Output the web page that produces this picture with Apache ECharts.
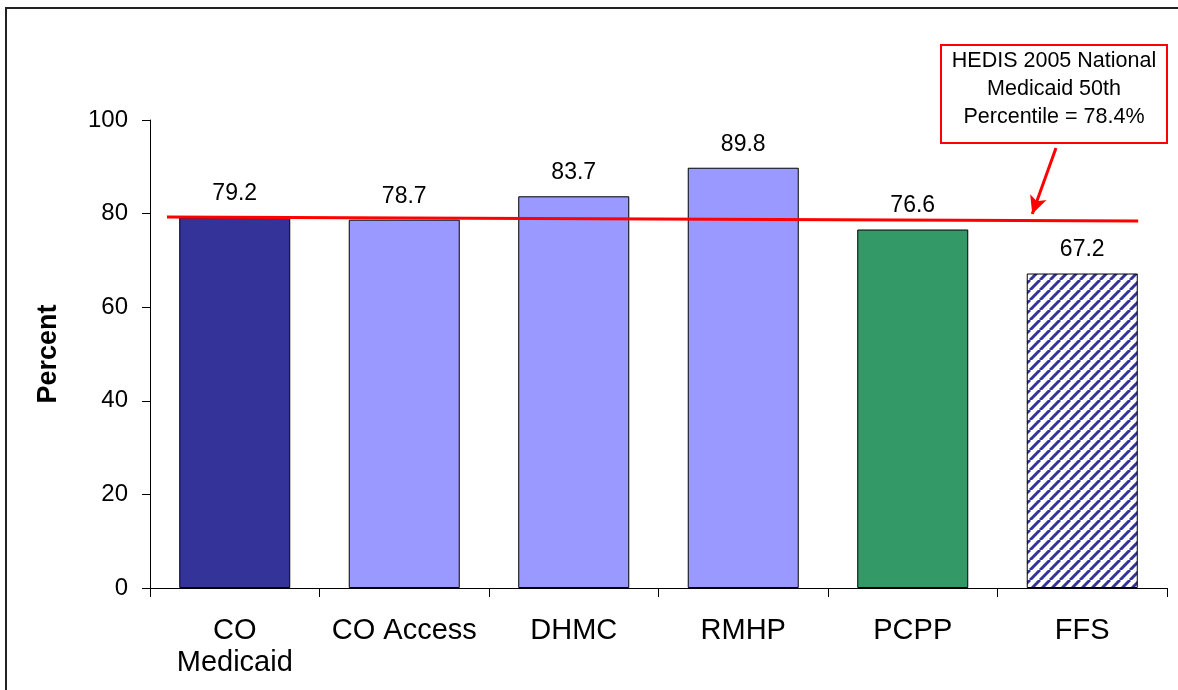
<!DOCTYPE html>
<html>
<head>
<meta charset="utf-8">
<script src="https://cdn.jsdelivr.net/npm/echarts@6/dist/echarts.min.js"></script>
<style>
html,body{margin:0;padding:0;background:#fff;}
#chart{width:1178px;height:690px;}
</style>
</head>
<body>
<div id="chart"></div>
<script>
// ---- data ----
const categories = ['CO Medicaid', 'CO Access', 'DHMC', 'RMHP', 'PCPP', 'FFS'];
const values = [79.2, 78.7, 83.7, 89.8, 76.6, 67.2];
const yTicks = [0, 20, 40, 60, 80, 100];
const benchmarkLabel = ['HEDIS 2005 National', 'Medicaid 50th', 'Percentile = 78.4%'];
// benchmark line as drawn (x in category-width units, y in percent)
const benchmarkLine = [[0.1, 79.3], [5.83, 78.4]];
// annotation arrow (x in category-width units, y in percent)
const arrowFrom = [5.345, 94.0];
const arrowTo = [5.205, 79.9];

// ---- styles ----
const FONT = "'Liberation Sans', Arial, sans-serif";

function hatch() {
  const s = 10;
  const c = document.createElement('canvas');
  c.width = s; c.height = s;
  const g = c.getContext('2d');
  g.fillStyle = '#ffffff';
  g.fillRect(0, 0, s, s);
  g.strokeStyle = '#333399';
  g.lineWidth = 3;
  for (const k of [-s, 0, s]) {
    g.beginPath();
    g.moveTo(k, s);
    g.lineTo(k + s, 0);
    g.stroke();
  }
  return c;
}
const barColors = ['#333399', '#9999FF', '#9999FF', '#9999FF', '#339966', {image: hatch(), repeat: 'repeat'}];

const chart = echarts.init(document.getElementById('chart'), null, {renderer: 'canvas'});

const barData = values.map((v, i) => ({
  value: v,
  itemStyle: {color: barColors[i]}
}));

chart.setOption({
  animation: false,
  backgroundColor: '#ffffff',
  grid: {left: 150, right: 11, top: 120, bottom: 102, containLabel: false},
  xAxis: [{
    type: 'category',
    data: categories,
    axisLine: {show: true, lineStyle: {color: '#000', width: 1}},
    axisTick: {show: true, length: 9, alignWithLabel: false, lineStyle: {color: '#000'}},
    axisLabel: {
      color: '#000', fontFamily: FONT, fontSize: 29, lineHeight: 32, margin: 27,
      interval: 0,
      formatter: v => v.replace(' Medicaid', '\nMedicaid')
    }
  }, {
    type: 'value', min: 0, max: 6, show: false
  }],
  yAxis: {
    type: 'value',
    min: yTicks[0], max: yTicks[yTicks.length - 1], interval: 20,
    name: 'Percent',
    nameLocation: 'middle',
    nameRotate: 90,
    nameGap: 88,
    nameTextStyle: {color: '#000', fontFamily: FONT, fontSize: 27, fontWeight: 'bold'},
    axisLine: {show: true, lineStyle: {color: '#000', width: 1}},
    axisTick: {show: true, length: 8, lineStyle: {color: '#000'}},
    splitLine: {show: false},
    axisLabel: {color: '#000', fontFamily: FONT, fontSize: 24, margin: 22}
  },
  series: [{
    type: 'bar',
    data: barData,
    barCategoryGap: '34.5%',
    itemStyle: {borderColor: '#000', borderWidth: 1},
    label: {
      show: true, position: 'top', distance: 12,
      color: '#000', fontFamily: FONT, fontSize: 23,
      formatter: p => p.value.toFixed(1)
    },
    z: 2
  }, {
    type: 'line',
    xAxisIndex: 1,
    data: benchmarkLine,
    symbol: 'none',
    lineStyle: {color: '#FF0000', width: 3},
    z: 5,
    markLine: {
      silent: true,
      symbol: ['none', 'arrow'],
      symbolSize: [13, 18],
      label: {show: false},
      lineStyle: {color: '#FF0000', width: 3, type: 'solid'},
      data: [[{coord: arrowFrom}, {coord: arrowTo}]]
    }
  }],
  graphic: [{
    type: 'rect',
    shape: {x: 6, y: 8, width: 1400, height: 900},
    style: {fill: 'none', stroke: '#222', lineWidth: 2},
    z: 0
  }, {
    type: 'rect',
    shape: {x: 941, y: 45, width: 226, height: 98},
    style: {fill: '#fff', stroke: '#FF0000', lineWidth: 2},
    z: 10
  }, {
    type: 'text',
    x: 1054, y: 89,
    style: {
      text: benchmarkLabel.join('\n'),
      fill: '#000', font: '21.5px ' + FONT,
      lineHeight: 28,
      textAlign: 'center', textVerticalAlign: 'middle'
    },
    z: 11
  }]
});
</script>
</body>
</html>
